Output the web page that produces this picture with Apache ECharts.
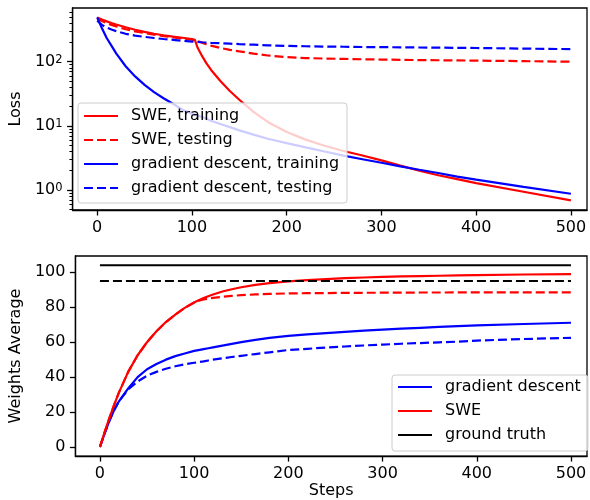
<!DOCTYPE html>
<html><head><meta charset="utf-8">
<script src="https://cdn.jsdelivr.net/npm/echarts@6/dist/echarts.min.js"></script>
<style>html,body{margin:0;padding:0;background:#fff}#c{width:590px;height:500px}</style>
</head><body><div id="c"></div>
<script>
const steps = [0,5,10,15,20,30,40,50,60,70,80,90,100,103,106,110,115,120,130,140,150,165,180,200,220,240,260,280,300,320,340,360,380,400,450,500];

// Loss (top panel)
const sweTrainLoss = [490,455,425,400,380,345,315,292,273,258,246,236,226,220,165,128,96,75,50,35,25.5,16.5,11.5,8.0,6.1,4.9,4.05,3.45,2.9,2.4,2.0,1.7,1.48,1.28,0.94,0.69];
const sweTestLoss  = [470,430,400,375,355,320,297,280,264,251,240,230,220,214,208,200,188,178,164,153,145,134,125,118,114,112,110.5,109,108,107,106,105.3,104.6,104,102,100];
const gdTrainLoss  = [490,331,234,178,135,85,59,43.6,33.5,26.9,22.1,17.8,15.5,15.0,14.5,13.9,13.0,12.0,10.7,9.55,8.5,7.3,6.3,5.37,4.62,3.98,3.43,3.02,2.66,2.34,2.07,1.84,1.62,1.45,1.12,0.875];
const gdTestLoss   = [435,375,340,318,300,272,255,244,234,226,219,212,206,204,203,201,199,197,194,191,188,184,180,176,174,172,171,169.5,168.5,167.5,166.5,165.5,164.5,163.5,160,157];

// Weights average (bottom panel)
const gdWeights     = [0,7.8,15,21,26,33.5,40,44.5,47.5,50,52,53.5,55,55.3,55.6,56,56.5,57,58,59,60,61.3,62.4,63.6,64.5,65.2,65.9,66.6,67.2,67.7,68.2,68.7,69.2,69.6,70.4,71.1];
const gdTestWeights = [0,7.8,15,21,26,33,37.5,40.8,43,44.8,46.2,47.3,48.2,48.4,48.7,49,49.5,50,50.8,51.5,52.2,53.2,54.2,55.5,56.2,56.9,57.5,58.1,58.6,59.1,59.5,59.9,60.3,60.9,61.8,62.5];
const sweWeights     = [0,8.5,16.5,24,31,43,52.5,60,66.2,71.5,75.8,79.6,82.7,83.5,84.3,85.2,86.3,87.3,89,90.3,91.4,92.8,93.8,94.8,95.5,96.1,96.6,97.0,97.4,97.6,97.8,98.0,98.2,98.4,98.7,98.9];
const sweTestWeights = [0,8.5,16.5,24,31,43,52.5,60,66.2,71.5,75.8,79.6,82.7,83.4,83.9,84.4,84.9,85.3,86,86.5,86.9,87.3,87.6,87.9,88.0,88.1,88.2,88.25,88.3,88.35,88.4,88.4,88.45,88.5,88.5,88.5];
const groundTruthSteps = [0,500];
const groundTruthTrain = [104,104];
const groundTruthTest  = [95,95];

// Ticks
const xTicks = [0,100,200,300,400,500];
const lossTicks = [1,10,100];
const lossMinorTicks = [0.5,0.6,0.7,0.8,0.9,2,3,4,5,6,7,8,9,20,30,40,50,60,70,80,90,200,300,400,500,600];
const weightTicks = [0,20,40,60,80,100];

const FONT = 'DejaVu Sans';
const RED = '#ff0000', BLUE = '#0000ff', BLACK = '#000000';
const DASH = [9,4];
const LW = 2.2;

function pairs(xs, ys){ return xs.map((x,i)=>[x, ys[i]]); }
function line(name, xi, xs, ys, color, dashed){
  return {
    type:'line', name:name, xAxisIndex:xi, yAxisIndex:xi,
    data: pairs(xs, ys), symbol:'none', showSymbol:false, animation:false,
    lineStyle:{color:color, width:LW, type: dashed ? DASH : 'solid'},
    itemStyle:{color:color}, emphasis:{disabled:true}, clip:true
  };
}
const supMap = {0:'0',1:'1',2:'2'};
const axisCommon = {
  axisLine:{show:true, onZero:false, lineStyle:{color:BLACK, width:1.3}},
  axisTick:{show:true, length:5.5, lineStyle:{color:BLACK, width:1.3}},
  splitLine:{show:false},
};
const labelStyle = {color:BLACK, fontSize:16, fontFamily:FONT, margin:10};

const legendCommon = {
  orient:'vertical', itemWidth:34, itemHeight:16, itemGap:8,
  backgroundColor:'rgba(255,255,255,0.8)', borderColor:'#cccccc', borderWidth:1, borderRadius:3,
  textStyle:{color:BLACK, fontSize:16, fontFamily:FONT, padding:[0,0,0,8]},
  itemStyle:{color:'rgba(0,0,0,0)', borderColor:'rgba(0,0,0,0)', borderWidth:0},
  selectedMode:false
};

const chart = echarts.init(document.getElementById('c'), null, {renderer:'canvas'});
chart.setOption({
  animation:false,
  backgroundColor:'#ffffff',
  grid:[
    {left:69, top:8, width:518, height:202, show:true, borderColor:BLACK, borderWidth:1.3},
    {left:69, top:256, width:518, height:202, show:true, borderColor:BLACK, borderWidth:1.3}
  ],
  xAxis:[
    Object.assign({gridIndex:0, type:'value', min:-26, max:517}, axisCommon, {
      axisTick:Object.assign({}, axisCommon.axisTick, {customValues:xTicks}),
      axisLabel:Object.assign({customValues:xTicks}, labelStyle)
    }),
    Object.assign({gridIndex:1, type:'value', min:-26, max:517, name:'Steps', nameLocation:'middle', nameGap:26,
      nameTextStyle:{color:BLACK, fontSize:16, fontFamily:FONT}}, axisCommon, {
      axisTick:Object.assign({}, axisCommon.axisTick, {customValues:xTicks}),
      axisLabel:Object.assign({customValues:xTicks}, labelStyle)
    })
  ],
  yAxis:[
    Object.assign({gridIndex:0, type:'log', logBase:10, min:0.488, max:687, name:'Loss', nameLocation:'middle', nameGap:37,
      nameTextStyle:{color:BLACK, fontSize:16, fontFamily:FONT}}, axisCommon, {
      axisTick:Object.assign({}, axisCommon.axisTick, {customValues:lossTicks}),
      axisLabel:Object.assign({}, labelStyle, {
        customValues:lossTicks,
        formatter:function(v){
          const e = Math.round(Math.log10(v));
          if (Math.abs(Math.log10(v)-e) > 1e-6) return '';
          return '{b|10}{s|' + supMap[e] + '}';
        },
        rich:{b:{fontSize:16, fontFamily:FONT, color:BLACK}, s:{fontSize:11.5, fontFamily:FONT, color:BLACK, verticalAlign:'top'}}
      })
    }),
    Object.assign({gridIndex:1, type:'value', min:-5.2, max:109.3, name:'Weights Average', nameLocation:'middle', nameGap:38,
      nameTextStyle:{color:BLACK, fontSize:16, fontFamily:FONT}}, axisCommon, {
      axisTick:Object.assign({}, axisCommon.axisTick, {customValues:weightTicks}),
      axisLabel:Object.assign({customValues:weightTicks}, labelStyle)
    }),
    {gridIndex:0, type:'log', logBase:10, min:0.488, max:687, position:'left',
      axisLine:{show:false, onZero:false}, splitLine:{show:false}, axisLabel:{show:false},
      axisTick:{show:true, customValues:lossMinorTicks, length:3.2, lineStyle:{color:BLACK, width:1}}}
  ],
  legend:[
    Object.assign({left:78, top:103, padding:[5,8,7,5],
      data:['SWE, training','SWE, testing','gradient descent, training','gradient descent, testing']}, legendCommon),
    Object.assign({left:392, top:375, padding:[4,7,8,5],
      data:['gradient descent','SWE','ground truth']}, legendCommon)
  ],
  series:[
    line('SWE, training', 0, steps, sweTrainLoss, RED, false),
    line('SWE, testing', 0, steps, sweTestLoss, RED, true),
    line('gradient descent, training', 0, steps, gdTrainLoss, BLUE, false),
    line('gradient descent, testing', 0, steps, gdTestLoss, BLUE, true),
    line('gradient descent', 1, steps, gdWeights, BLUE, false),
    line('gradient descent (testing)', 1, steps, gdTestWeights, BLUE, true),
    line('SWE', 1, steps, sweWeights, RED, false),
    line('SWE (testing)', 1, steps, sweTestWeights, RED, true),
    line('ground truth', 1, groundTruthSteps, groundTruthTrain, BLACK, false),
    line('ground truth (testing)', 1, groundTruthSteps, groundTruthTest, BLACK, true)
  ]
});
</script>
</body></html>
